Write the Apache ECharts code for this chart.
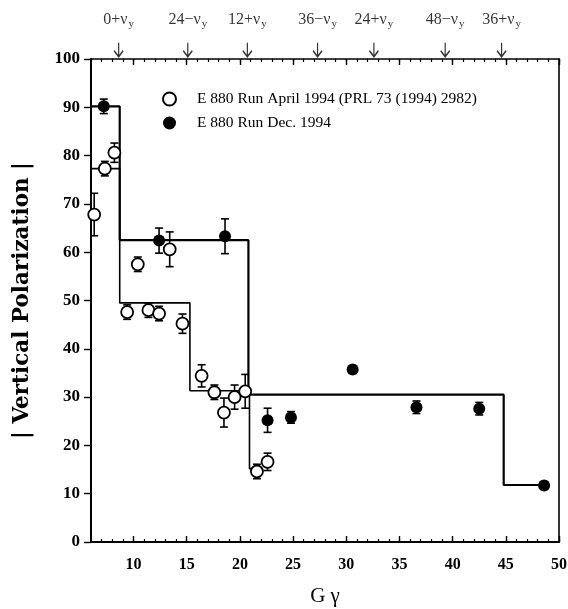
<!DOCTYPE html>
<html>
<head>
<meta charset="utf-8">
<script src="https://cdn.jsdelivr.net/npm/echarts@6/dist/echarts.min.js"></script>
<style>
  html, body { margin: 0; padding: 0; background: #fff; }
  #chart { width: 568px; height: 609px; }
</style>
</head>
<body>
<div id="chart"></div>
<script>
// April 1994 run (open circles)
var aprilX = [6.3, 7.3, 8.2, 9.4, 10.4, 11.4, 12.4, 13.4, 14.6, 16.4, 17.6, 18.5, 19.5, 20.5, 21.6, 22.6];
var aprilY = [67.8, 77.3, 80.6, 47.6, 57.5, 48.0, 47.3, 60.6, 45.2, 34.4, 31.0, 26.8, 30.0, 31.2, 14.6, 16.6];
var aprilErr = [4.4, 1.5, 2.0, 1.5, 1.5, 1.5, 1.5, 3.6, 2.0, 2.3, 1.5, 3.0, 2.5, 3.5, 1.5, 1.8];
// Dec. 1994 run (filled circles)
var decX = [7.2, 12.4, 18.6, 22.6, 24.8, 30.6, 36.6, 42.5, 48.6];
var decY = [90.2, 62.4, 63.3, 25.2, 25.8, 35.7, 27.9, 27.6, 11.7];
var decErr = [1.5, 2.6, 3.6, 2.5, 1.2, 0.8, 1.3, 1.3, 0.8];
// step curves
var decEdges = [6, 8.7, 20.8, 44.8, 48.5];
var decLevels = [90.2, 62.5, 30.5, 11.8];
var aprilEdges = [6, 8.7, 15.3, 20.9, 21.5];
var aprilLevels = [77.3, 49.5, 31.3, 15.2];
// resonance arrows on top
var arrowPos = [8.6, 15.1, 20.7, 27.3, 32.6, 39.3, 44.6];
var arrowLabels = ['0+ν', '24−ν', '12+ν', '36−ν', '24+ν', '48−ν', '36+ν'];
var xLabels = [10, 15, 20, 25, 30, 35, 40, 45, 50];

var names = ['E 880 Run April 1994 (PRL 73 (1994) 2982)', 'E 880 Run Dec. 1994'];
var serif = 'Liberation Serif';

function steps(edges, levels) {
  var pts = [];
  for (var i = 0; i < levels.length; i++) {
    pts.push([edges[i], levels[i]]);
    pts.push([edges[i + 1], levels[i]]);
  }
  return pts;
}
function errData(xs, ys, es) {
  return xs.map(function (x, i) { return [x, ys[i] - es[i], ys[i] + es[i]]; });
}
function pairs(xs, ys) {
  return xs.map(function (x, i) { return [x, ys[i]]; });
}
function errBars(params, api) {
  var lo = api.coord([api.value(0), api.value(1)]);
  var hi = api.coord([api.value(0), api.value(2)]);
  var st = { stroke: '#000', lineWidth: 1.6 };
  return {
    type: 'group',
    children: [
      { type: 'line', shape: { x1: lo[0], y1: lo[1], x2: hi[0], y2: hi[1] }, style: st },
      { type: 'line', shape: { x1: lo[0] - 4, y1: lo[1], x2: lo[0] + 4, y2: lo[1] }, style: st },
      { type: 'line', shape: { x1: hi[0] - 4, y1: hi[1], x2: hi[0] + 4, y2: hi[1] }, style: st }
    ]
  };
}

var minorTicks = { show: true, inside: true, length: 3, lineStyle: { color: '#000', width: 1.2 } };
var majorTicks = { show: true, inside: true, length: 6, customValues: xLabels, lineStyle: { color: '#000', width: 1.4 } };

var chart = echarts.init(document.getElementById('chart'));
chart.setOption({
  backgroundColor: '#fff',
  animation: false,
  grid: { left: 91, right: 9, top: 59, bottom: 67, outerBoundsMode: 'none', containLabel: false },
  legend: {
    data: names,
    orient: 'vertical',
    left: 157,
    top: 86,
    itemGap: 8,
    itemWidth: 13,
    itemHeight: 13,
    textStyle: { fontFamily: serif, fontSize: 15.5, color: '#000', padding: [0, 0, 0, 16] }
  },
  xAxis: [
    {
      type: 'value', min: 6, max: 50, interval: 1, position: 'bottom',
      name: 'G γ', nameLocation: 'middle', nameGap: 44,
      nameTextStyle: { fontFamily: serif, fontSize: 21, color: '#000' },
      axisLine: { lineStyle: { color: '#000', width: 2 } },
      axisTick: minorTicks,
      axisLabel: { customValues: xLabels, margin: 15, fontFamily: serif, fontSize: 16, fontWeight: 'bold', color: '#000' },
      splitLine: { show: false }
    },
    {
      type: 'value', min: 6, max: 50, position: 'bottom',
      axisLine: { show: false }, axisTick: majorTicks, axisLabel: { show: false }, splitLine: { show: false }
    },
    {
      type: 'value', min: 6, max: 50, interval: 1, position: 'top',
      axisLine: { lineStyle: { color: '#000', width: 1.6 } },
      axisTick: minorTicks, axisLabel: { show: false }, splitLine: { show: false }
    },
    {
      type: 'value', min: 6, max: 50, position: 'top',
      axisLine: { show: false }, axisTick: majorTicks, axisLabel: { show: false }, splitLine: { show: false }
    }
  ],
  yAxis: [
    {
      type: 'value', min: 0, max: 100, interval: 10,
      name: '| Vertical Polarization |', nameLocation: 'middle', nameGap: 58,
      nameTextStyle: { fontFamily: 'DejaVu Serif', fontSize: 21.5, fontWeight: 'bold', color: '#000' },
      axisLine: { lineStyle: { color: '#000', width: 2 } },
      axisTick: { show: true, length: 7, lineStyle: { color: '#000', width: 1.4 } },
      axisLabel: { margin: 11, fontFamily: serif, fontSize: 17, fontWeight: 'bold', color: '#000' },
      splitLine: { show: false }
    },
    {
      type: 'value', min: 0, max: 100, position: 'right',
      axisLine: { show: true, lineStyle: { color: '#000', width: 1.6 } },
      axisTick: { show: false }, axisLabel: { show: false }, splitLine: { show: false }
    }
  ],
  series: [
    {
      type: 'line', data: steps(aprilEdges, aprilLevels), symbol: 'none', silent: true,
      lineStyle: { color: '#000', width: 1.6 }, z: 2
    },
    {
      type: 'line', data: steps(decEdges, decLevels), symbol: 'none', silent: true,
      lineStyle: { color: '#000', width: 2.2 }, z: 2
    },
    { type: 'custom', renderItem: errBars, data: errData(aprilX, aprilY, aprilErr), z: 3 },
    { type: 'custom', renderItem: errBars, data: errData(decX, decY, decErr), z: 3 },
    {
      name: names[0], type: 'scatter', data: pairs(aprilX, aprilY), symbol: 'circle', symbolSize: 12,
      itemStyle: { color: '#fff', borderColor: '#000', borderWidth: 1.8, opacity: 1 }, z: 5
    },
    {
      name: names[1], type: 'scatter', data: pairs(decX, decY), symbol: 'circle', symbolSize: 12,
      itemStyle: { color: '#000', opacity: 1 }, z: 5
    },
    {
      type: 'scatter', clip: false, silent: true, z: 6,
      data: arrowPos.map(function (x, i) { return { value: [x, 101.9], label: { formatter: '{m|' + arrowLabels[i] + '}{s|y}' } }; }),
      symbol: 'path://M5,0 L5,14 M1,8 L5,14 L9,8',
      symbolSize: [9, 14],
      itemStyle: { color: 'rgba(0,0,0,0)', borderColor: '#000', borderWidth: 1.5 },
      label: {
        show: true, position: 'top', distance: 12,
        rich: {
          m: { fontFamily: serif, fontSize: 16, color: '#000' },
          s: { fontFamily: serif, fontSize: 11, color: '#000', verticalAlign: 'bottom', padding: [10, 0, 0, 1] }
        }
      }
    }
  ]
});
</script>
</body>
</html>
